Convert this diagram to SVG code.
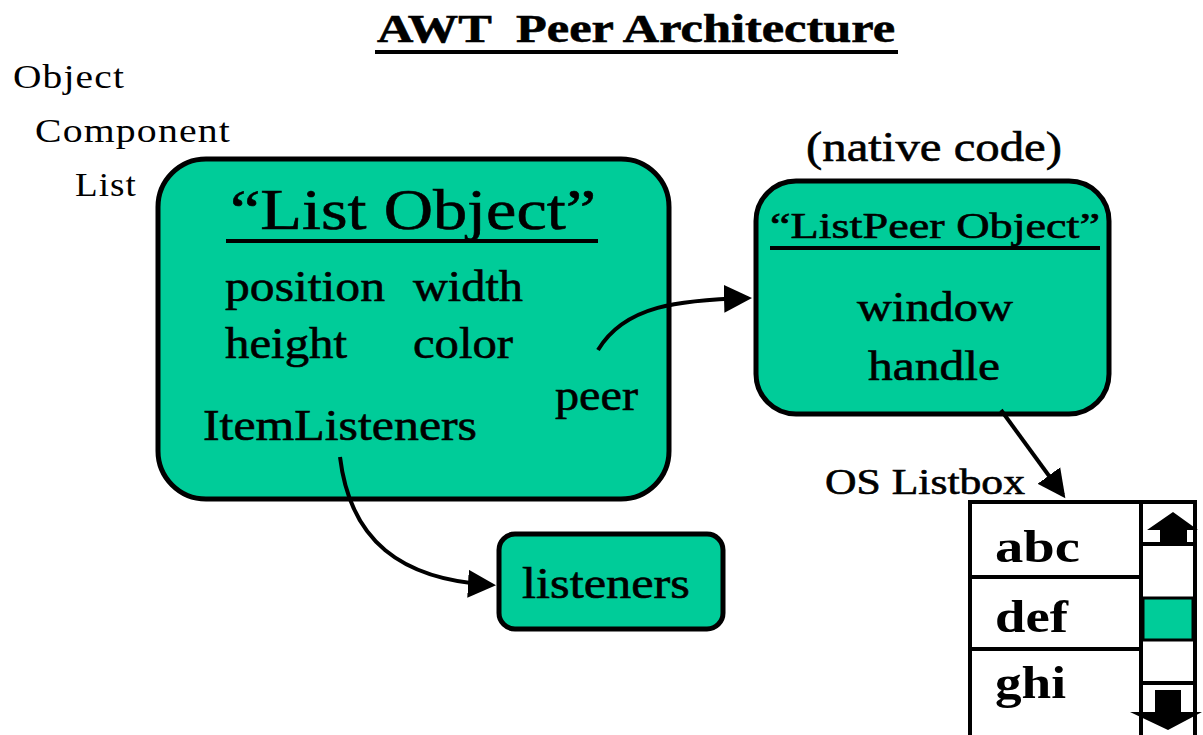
<svg xmlns="http://www.w3.org/2000/svg" width="1203" height="735" viewBox="0 0 1203 735">
<style>
.box{fill:#00CC99;stroke:#000;stroke-width:5}
.t{font-family:"Liberation Serif",serif;fill:#000;stroke:#000;stroke-width:0.6}
.h{font-family:"Liberation Serif",serif;fill:#000;font-size:34px;letter-spacing:1px}
.c{stroke:#000;stroke-width:4;fill:none}
.lb{font-family:"Liberation Serif",serif;font-weight:bold;font-size:46px}
</style>
<defs>
<marker id="ah" markerWidth="8" markerHeight="8" refX="6" refY="4" orient="auto" markerUnits="strokeWidth">
<path d="M0,0.5 L7,4 L0,7.5 Z" fill="#000"/>
</marker>
</defs>
<rect width="1203" height="735" fill="#fff"/>
<g id="title">
<text class="t" x="377" y="42" font-size="40" font-weight="bold" style="white-space:pre" textLength="518" lengthAdjust="spacingAndGlyphs">AWT  Peer Architecture</text>
<line x1="375" y1="52" x2="898" y2="52" stroke="#000" stroke-width="4"/>
</g>
<g id="hierarchy">
<text class="h" x="13" y="88" textLength="112" lengthAdjust="spacingAndGlyphs">Object</text>
<text class="h" x="35" y="142" textLength="196" lengthAdjust="spacingAndGlyphs">Component</text>
<text class="h" x="75" y="196" textLength="62" lengthAdjust="spacingAndGlyphs">List</text>
</g>
<g id="list-object">
<rect class="box" x="158" y="159" width="511" height="340" rx="48"/>
<text class="t" x="230" y="229" font-size="58" textLength="366" lengthAdjust="spacingAndGlyphs">“List Object”</text>
<line x1="226" y1="241" x2="598" y2="241" stroke="#000" stroke-width="4"/>
<text class="t" x="225" y="301" font-size="44" textLength="160" lengthAdjust="spacingAndGlyphs">position</text>
<text class="t" x="413" y="301" font-size="44" textLength="110" lengthAdjust="spacingAndGlyphs">width</text>
<text class="t" x="225" y="358" font-size="44" textLength="122" lengthAdjust="spacingAndGlyphs">height</text>
<text class="t" x="413" y="358" font-size="44" textLength="100" lengthAdjust="spacingAndGlyphs">color</text>
<text class="t" x="555" y="410" font-size="44" textLength="83" lengthAdjust="spacingAndGlyphs">peer</text>
<text class="t" x="203" y="440" font-size="44" textLength="274" lengthAdjust="spacingAndGlyphs">ItemListeners</text>
</g>
<g id="native-label">
<text class="t" x="806" y="161" font-size="42" textLength="256" lengthAdjust="spacingAndGlyphs">(native code)</text>
</g>
<g id="listpeer-object">
<rect class="box" x="756" y="181" width="353" height="233" rx="40"/>
<text class="t" x="770" y="238" font-size="36" textLength="330" lengthAdjust="spacingAndGlyphs">“ListPeer Object”</text>
<line x1="770" y1="248" x2="1100" y2="248" stroke="#000" stroke-width="4"/>
<text class="t" x="857" y="321" font-size="42" textLength="156" lengthAdjust="spacingAndGlyphs">window</text>
<text class="t" x="868" y="380" font-size="42" textLength="132" lengthAdjust="spacingAndGlyphs">handle</text>
</g>
<g id="listeners">
<rect class="box" x="499" y="534" width="224" height="95" rx="16"/>
<text class="t" x="522" y="598" font-size="44" textLength="168" lengthAdjust="spacingAndGlyphs">listeners</text>
</g>
<g id="os-listbox-label">
<text class="t" x="825" y="494" font-size="36" textLength="200" lengthAdjust="spacingAndGlyphs">OS Listbox</text>
</g>
<g id="os-listbox">
<rect x="970" y="502" width="225" height="240" fill="#fff" stroke="#000" stroke-width="4"/>
<line x1="1141" y1="502" x2="1141" y2="735" stroke="#000" stroke-width="4"/>
<line x1="970" y1="577" x2="1141" y2="577" stroke="#000" stroke-width="4"/>
<line x1="970" y1="649" x2="1141" y2="649" stroke="#000" stroke-width="4"/>
<line x1="1141" y1="544" x2="1195" y2="544" stroke="#000" stroke-width="4"/>
<line x1="1141" y1="683" x2="1195" y2="683" stroke="#000" stroke-width="4"/>
<rect x="1143" y="598" width="50" height="42" fill="#00CC99" stroke="#000" stroke-width="3"/>
<polygon points="1173,512 1198,530 1187,530 1187,544 1160,544 1160,530 1147,530" fill="#000"/>
<polygon points="1155,690 1181,690 1181,712 1202,712 1168,730 1130,712 1155,712" fill="#000"/>
<text class="lb" x="995" y="562" textLength="85" lengthAdjust="spacingAndGlyphs">abc</text>
<text class="lb" x="995" y="632" textLength="73" lengthAdjust="spacingAndGlyphs">def</text>
<text class="lb" x="995" y="698" textLength="71" lengthAdjust="spacingAndGlyphs">ghi</text>
</g>
<g id="connectors">
<path class="c" d="M598,350 C625,305 680,300 748,298" marker-end="url(#ah)"/>
<path class="c" d="M340,457 C350,540 400,580 492,585" marker-end="url(#ah)"/>
<path class="c" d="M1001,410 L1063,495" marker-end="url(#ah)"/>
</g>
</svg>
